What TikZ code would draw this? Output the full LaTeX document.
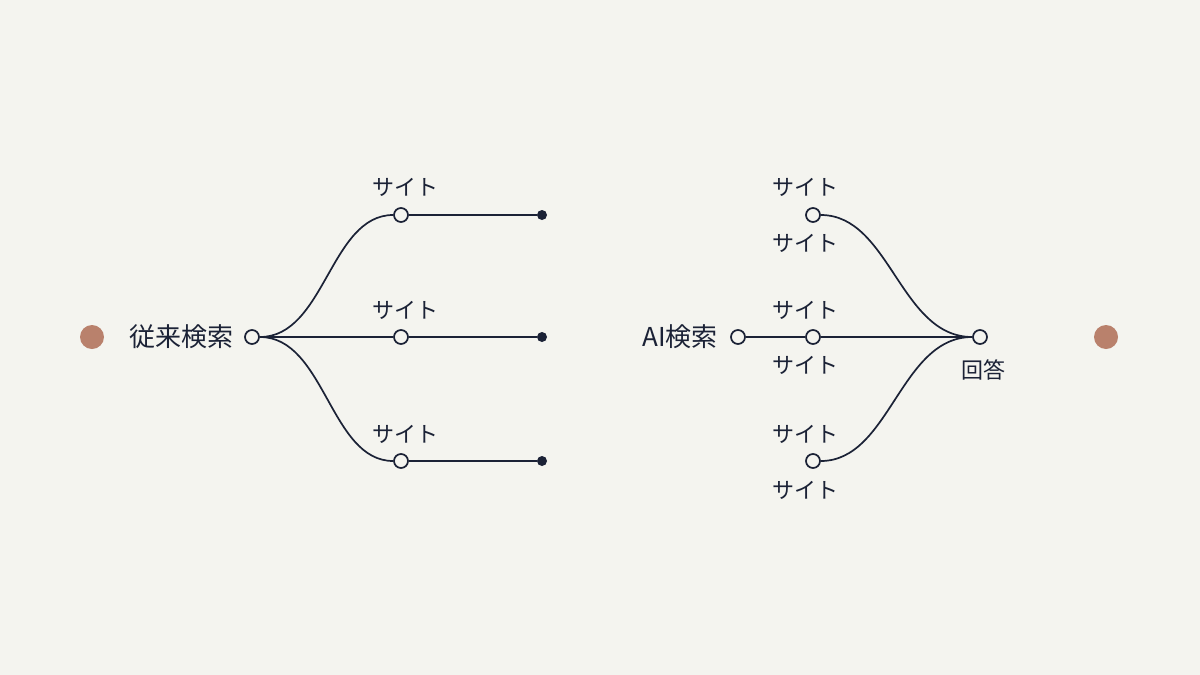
\documentclass[tikz,border=0pt]{standalone}
\usepackage{fontspec}
\newfontfamily\jp{Noto Sans CJK JP}
\definecolor{bg}{HTML}{F4F4EF}
\definecolor{ink}{HTML}{1B2236}
\definecolor{accent}{HTML}{B9816C}
\begin{document}
\begin{tikzpicture}[x=1pt,y=-1pt,
  opennode/.style={circle,draw=ink,fill=bg,line width=1.7pt,minimum size=14pt,inner sep=0pt},
  enddot/.style={circle,fill=ink,minimum size=10pt,inner sep=0pt},
  accdot/.style={circle,fill=accent,minimum size=24pt,inner sep=0pt},
  conn/.style={draw=ink,line width=1.7pt},
  lbl/.style={text=ink,font=\jp\fontsize{22}{26}\selectfont,inner sep=0pt},
  big/.style={text=ink,font=\jp\fontsize{26}{31}\selectfont,inner sep=0pt}]
\fill[bg] (0,0) rectangle (1200,675);
\useasboundingbox (0,0) rectangle (1200,675);
% left
\node[accdot] (la) at (92,337) {};
\node[big] (lt) at (181,337) {従来検索};
\node[opennode] (ls) at (252,337) {};
\node[opennode] (s1) at (401,215) {};
\node[opennode] (s2) at (401,337) {};
\node[opennode] (s3) at (401,461) {};
\node[enddot] (e1) at (542,215) {};
\node[enddot] (e2) at (542,337) {};
\node[enddot] (e3) at (542,461) {};
\node[lbl] at (405,187) {サイト};
\node[lbl] at (405,310) {サイト};
\node[lbl] at (405,434) {サイト};
\path[conn] (ls.east) .. controls (325,337) and (330,215) .. (s1.west);
\path[conn] (ls.east) .. controls (325,337) and (330,461) .. (s3.west);
\path[conn] (ls.east) -- (s2.west);
\path[conn] (s1.east) -- (e1);
\path[conn] (s2.east) -- (e2);
\path[conn] (s3.east) -- (e3);
% right
\node[big] (rt) at (680,337) {AI検索};
\node[opennode] (rs) at (738,337) {};
\node[opennode] (t1) at (813,215) {};
\node[opennode] (t2) at (813,337) {};
\node[opennode] (t3) at (813,461) {};
\node[opennode] (ans) at (980,337) {};
\node[lbl] at (983,370) {回答};
\node[lbl] at (805,187) {サイト};
\node[lbl] at (805,243) {サイト};
\node[lbl] at (805,310) {サイト};
\node[lbl] at (805,365) {サイト};
\node[lbl] at (805,434) {サイト};
\node[lbl] at (805,490) {サイト};
\path[conn] (rs.east) -- (t2.west);
\path[conn] (t2.east) -- (ans.west);
\path[conn] (t1.east) .. controls (890,215) and (900,337) .. (ans.west);
\path[conn] (t3.east) .. controls (890,461) and (900,337) .. (ans.west);
\node[accdot] (ra) at (1106,337) {};
\end{tikzpicture}
\end{document}
